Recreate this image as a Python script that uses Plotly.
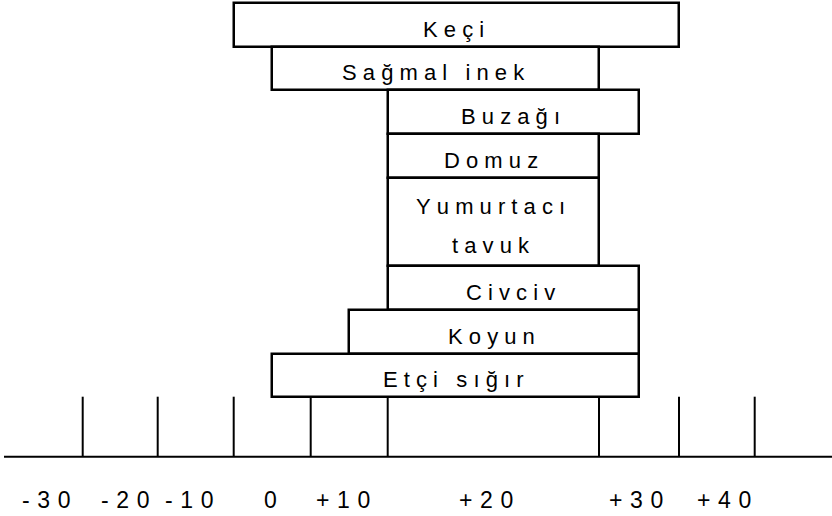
import numpy as np
import plotly.graph_objects as go

# ---- data ----
animals = ["Keçi", "Sağmal inek", "Buzağı", "Domuz", "Yumurtacı\ntavuk", "Civciv", "Koyun", "Etçi sığır"]
temp_low = [-10, -5, 10, 10, 10, 10, 5, -5]
temp_high = [30, 20, 25, 20, 20, 25, 25, 25]
tick_temps = [-30, -20, -10, 0, 10, 20, 30, 40]
tick_labels = ["-30", "-20", "-10", "0", "+10", "+20", "+30", "+40"]

# ---- layout constants (non-linear temperature scale, in pixel units) ----
W, H = 832, 516
SCALE_POS = [82.7, 157.7, 233.7, 310.7, 387.7, 599.0, 679.0, 754.7]
ROW_SPANS = [1, 1, 1, 1, 2, 1, 1, 1]
TOP, ROW_H = 2.7, 43.85
LABEL_X = [46, 125, 189, 270, 343, 486, 636, 724]
LABEL_Y = 500
AXIS_Y, TICK_TOP = 456.7, 396.7
BAR_FONT = dict(family="Liberation Sans, Arial, sans-serif", size=22, color="#000")
AXIS_FONT = dict(family="Liberation Sans, Arial, sans-serif", size=23, color="#000")


def sx(t):
    return np.interp(t, tick_temps, SCALE_POS)


def spaced(s, sep):
    return sep.join(s)


starts = sx(np.array(temp_low, dtype=float))
ends = sx(np.array(temp_high, dtype=float))
spans = np.array(ROW_SPANS, dtype=float)
row_top = TOP + ROW_H * np.concatenate([[0], np.cumsum(spans)[:-1]])
row_h = spans * ROW_H
row_c = row_top + row_h / 2

fig = go.Figure()
fig.add_trace(go.Bar(
    orientation="h", y=row_c, x=ends - starts, base=starts, width=row_h,
    marker=dict(color="white", line=dict(color="black", width=2.5)),
    hoverinfo="skip", showlegend=False,
))

# tick lines
tx, ty = [], []
for p in sx(np.array(tick_temps, dtype=float)):
    tx += [p, p, None]
    ty += [TICK_TOP, AXIS_Y, None]
fig.add_trace(go.Scatter(x=tx, y=ty, mode="lines", line=dict(color="black", width=2),
                         hoverinfo="skip", showlegend=False))
# axis line
fig.add_trace(go.Scatter(x=[4, W], y=[AXIS_Y, AXIS_Y], mode="lines",
                         line=dict(color="black", width=2), hoverinfo="skip", showlegend=False))

annotations = []
for name, s, e, c in zip(animals, starts, ends, row_c):
    lines = name.split("\n")
    n = len(lines)
    for i, ln in enumerate(lines):
        annotations.append(dict(
            x=(s + e) / 2 - 2.5, y=c + 4.5 + (i - (n - 1) / 2) * 39,
            xref="x", yref="y", text=spaced(ln.replace(" ", "\u00a0"), "\u00a0"), showarrow=False,
            xanchor="center", yanchor="middle", font=BAR_FONT))
for lab, lx in zip(tick_labels, LABEL_X):
    annotations.append(dict(
        x=lx, y=LABEL_Y, xref="x", yref="y", text=spaced(lab, "\u2004"), showarrow=False,
        xanchor="center", yanchor="middle", font=AXIS_FONT))

fig.update_layout(
    width=W, height=H, margin=dict(l=0, r=0, t=0, b=0),
    paper_bgcolor="white", plot_bgcolor="white",
    xaxis=dict(range=[0, W], visible=False, fixedrange=True),
    yaxis=dict(range=[H, 0], visible=False, fixedrange=True),
    annotations=annotations, bargap=0,
)
fig.write_html("out.html", config={"displayModeBar": False},
               post_script="document.body.style.margin='0';document.body.style.overflow='hidden';")
